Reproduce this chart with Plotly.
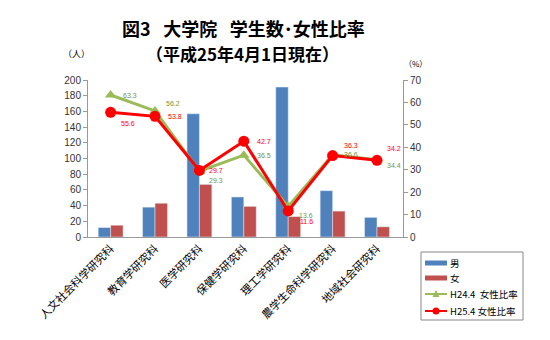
import plotly.graph_objects as go

# Graduate schools
categories = ["人文社会科学研究科", "教育学研究科", "医学研究科", "保健学研究科",
              "理工学研究科", "農学生命科学研究科", "地域社会研究科"]
# Student counts (people)
male = [12, 38, 157, 51, 191, 59, 25]
female = [15, 43, 67, 39, 26, 33, 13]
# Female ratio (%)
ratio_h24 = [63.3, 56.2, 29.3, 36.5, 13.6, 36.6, 34.4]
ratio_h25 = [55.6, 53.8, 29.7, 42.7, 11.6, 36.3, 34.2]

left_ticks = list(range(0, 201, 20))
right_ticks = list(range(0, 71, 10))

BLUE = "#4F81BD"
RED_BAR = "#C0504D"
GREEN = "#9BBB59"
RED = "#FF0000"
FONT = "Liberation Sans, Noto Sans CJK JP, sans-serif"
JP = "Noto Sans CJK JP, sans-serif"

# Plot area in pixels
PL, PR, PT, PB = 88, 403, 80, 237
W, H = 550, 340


def px_x(x):
    return (x - PL) / (PR - PL)


def px_y(y):
    return (PB - y) / (PB - PT)


fig = go.Figure()
fig.add_trace(go.Bar(x=categories, y=male, name="男", marker_color=BLUE))
fig.add_trace(go.Bar(x=categories, y=female, name="女", marker_color=RED_BAR))
fig.add_trace(go.Scatter(x=categories, y=ratio_h24, name="H24.4  女性比率", yaxis="y2",
                         mode="lines+markers",
                         line=dict(color=GREEN, width=3),
                         marker=dict(symbol="triangle-up", size=10, color=GREEN)))
fig.add_trace(go.Scatter(x=categories, y=ratio_h25, name="H25.4 女性比率", yaxis="y2",
                         mode="lines+markers",
                         line=dict(color=RED, width=3),
                         marker=dict(symbol="circle", size=11, color=RED)))

# Value labels beside each point (x shift, y shift in px)
h24_shift = [(19, 0), (18, 7), (17, -9), (20, 0), (18, -9), (18, 0), (17, -6)]
h25_shift = [(17, -11), (20, 0), (17, 0), (20, 0), (18, -11), (18, 10), (17, 12)]
annotations = []
for cat, v, (dx, dy) in zip(categories, ratio_h24, h24_shift):
    annotations.append(dict(x=cat, y=v, yref="y2", text=f"{v:.1f}", showarrow=False,
                            xshift=dx, yshift=dy,
                            font=dict(size=7, color="#77933C", family=FONT)))
for cat, v, (dx, dy) in zip(categories, ratio_h25, h25_shift):
    annotations.append(dict(x=cat, y=v, yref="y2", text=f"{v:.1f}", showarrow=False,
                            xshift=dx, yshift=dy,
                            font=dict(size=7, color=RED, family=FONT)))

# Titles and axis unit labels
GAP = "\u2002\u2009"
header = [
    dict(x=px_x(243), y=px_y(28), text=f"<b>図3{GAP}大学院{GAP}学生数･女性比率</b>",
         font=dict(size=18, color="#000", family=JP)),
    dict(x=px_x(242), y=px_y(53), text="<b>（平成25年4月1日現在）</b>",
         font=dict(size=17, color="#000", family=JP)),
    dict(x=px_x(76), y=px_y(53), text="（人）",
         font=dict(size=9, color="#000", family=JP)),
    dict(x=px_x(415), y=px_y(63), text="（%）",
         font=dict(size=8, color="#000", family=JP)),
]
for a in header:
    a.update(xref="paper", yref="paper", xanchor="center", yanchor="middle",
             showarrow=False)
annotations += header

# Compact legend box drawn with shapes
shapes = [dict(type="rect", xref="paper", yref="paper",
               x0=px_x(421), x1=px_x(523), y0=px_y(252), y1=px_y(320),
               line=dict(color="#888", width=1), fillcolor="white", layer="above")]
legend_rows = [("男", BLUE, "bar", 263), ("女", RED_BAR, "bar", 278),
               ("H24.4  女性比率", GREEN, "tri", 294), ("H25.4 女性比率", RED, "dot", 311)]
for label, color, kind, yc in legend_rows:
    if kind == "bar":
        shapes.append(dict(type="rect", xref="paper", yref="paper",
                           x0=px_x(425), x1=px_x(447), y0=px_y(yc + 2.5), y1=px_y(yc - 2.5),
                           line=dict(width=0), fillcolor=color, layer="above"))
    else:
        shapes.append(dict(type="line", xref="paper", yref="paper",
                           x0=px_x(425), x1=px_x(447), y0=px_y(yc), y1=px_y(yc),
                           line=dict(color=color, width=2), layer="above"))
        if kind == "tri":
            path = (f"M {px_x(432.5)} {px_y(yc + 3)} L {px_x(439.5)} {px_y(yc + 3)} "
                    f"L {px_x(436)} {px_y(yc - 4)} Z")
            shapes.append(dict(type="path", xref="paper", yref="paper", path=path,
                               line=dict(width=0), fillcolor=color, layer="above"))
        else:
            shapes.append(dict(type="circle", xref="paper", yref="paper",
                               x0=px_x(432.5), x1=px_x(439.5),
                               y0=px_y(yc + 3.5), y1=px_y(yc - 3.5),
                               line=dict(width=0), fillcolor=color, layer="above"))
    annotations.append(dict(x=px_x(448), y=px_y(yc), xref="paper", yref="paper",
                            xanchor="left", yanchor="middle", showarrow=False,
                            text=label, font=dict(size=9.5, color="#000", family=JP)))

fig.update_layout(
    width=W, height=H,
    margin=dict(l=PL, r=W - PR, t=PT, b=H - PB, autoexpand=False),
    paper_bgcolor="white", plot_bgcolor="white",
    font=dict(family=FONT, size=10, color="#333"),
    barmode="group", bargap=0.44, bargroupgap=0,
    showlegend=False,
    xaxis=dict(tickangle=-45, showline=True, linecolor="#999", linewidth=1,
               ticks="", automargin=False,
               tickfont=dict(size=11, family=JP, color="#000")),
    yaxis=dict(range=[0, 200], tickvals=left_ticks, showgrid=False, zeroline=False,
               showline=True, linecolor="#999", ticks="outside", ticklen=4,
               tickcolor="#999", automargin=False, tickfont=dict(size=10, color="#333")),
    yaxis2=dict(range=[0, 70], tickvals=right_ticks, overlaying="y", side="right",
                showgrid=False, zeroline=False, showline=True, linecolor="#999",
                ticks="outside", ticklen=4, tickcolor="#999", automargin=False,
                tickfont=dict(size=10, color="#333")),
    shapes=shapes,
    annotations=annotations,
)

fig.write_html("out.html")
